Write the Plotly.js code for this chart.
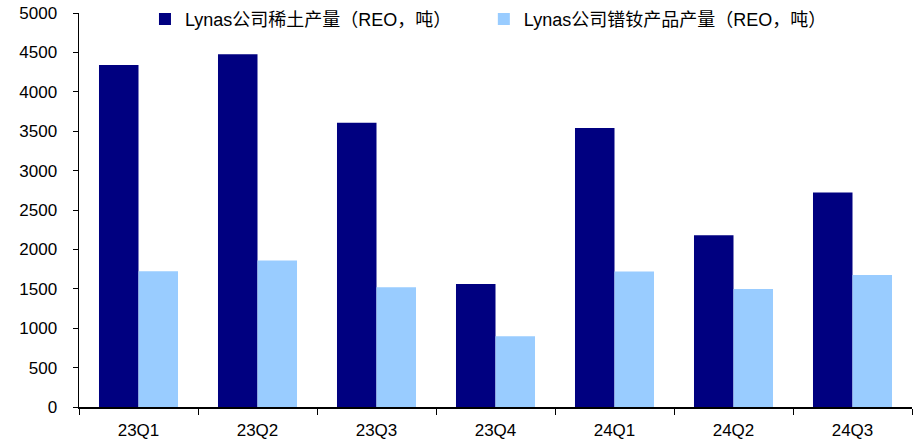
<!DOCTYPE html>
<html>
<head>
<meta charset="utf-8">
<script src="https://cdn.plot.ly/plotly-3.0.1.min.js"></script>
<style>html,body{margin:0;padding:0;background:#fff;}#chart{width:917px;height:440px;}</style>
</head>
<body>
<div id="chart"></div>
<script>
const categories = ["23Q1", "23Q2", "23Q3", "23Q4", "24Q1", "24Q2", "24Q3"];
const rareEarthOutput = [4340, 4475, 3607, 1562, 3540, 2181, 2723];
const ndprOutput = [1723, 1859, 1520, 898, 1719, 1499, 1676];
const seriesNames = ["Lynas公司稀土产量（REO，吨）", "Lynas公司镨钕产品产量（REO，吨）"];
const yTicks = [0, 500, 1000, 1500, 2000, 2500, 3000, 3500, 4000, 4500, 5000];

const fontFamily = '"Liberation Sans", Arial, "Noto Sans CJK SC", sans-serif';

const traces = [
  {type: "bar", name: seriesNames[0], x: categories, y: rareEarthOutput, legend: "legend",
   marker: {color: "#000080", line: {width: 0}}},
  {type: "bar", name: seriesNames[1], x: categories, y: ndprOutput, legend: "legend2",
   marker: {color: "#99CCFF", line: {width: 0}}}
];

const legendBase = {orientation: "h", y: 1.031, xanchor: "left", yanchor: "top",
                    bgcolor: "rgba(0,0,0,0)", font: {size: 18, family: fontFamily, color: "#000"}};

const layout = {
  width: 917, height: 440,
  margin: {l: 79, r: 5, t: 13, b: 33, autoexpand: false},
  paper_bgcolor: "#fff", plot_bgcolor: "#fff",
  font: {family: fontFamily, size: 17, color: "#000"},
  barmode: "group",
  bargap: 0.336,
  bargroupgap: 0,
  showlegend: true,
  legend: Object.assign({}, legendBase, {x: 0.0792}),
  legend2: Object.assign({}, legendBase, {x: 0.486}),
  xaxis: {type: "category", showline: true, linecolor: "#000", linewidth: 1.5,
          ticks: "outside", tickson: "boundaries", ticklen: 6, tickcolor: "#000",
          showgrid: false, zeroline: false, tickfont: {size: 17}, ticklabelstandoff: 7,
          automargin: false},
  yaxis: {range: [0, 5000], tickvals: yTicks, showline: true, linecolor: "#000", linewidth: 1.5,
          ticks: "outside", ticklen: 5, tickcolor: "#000", showgrid: false, zeroline: false,
          tickfont: {size: 17}, ticklabelstandoff: 12, automargin: false}
};

Plotly.newPlot("chart", traces, layout, {displayModeBar: false, staticPlot: true});
</script>
</body>
</html>
